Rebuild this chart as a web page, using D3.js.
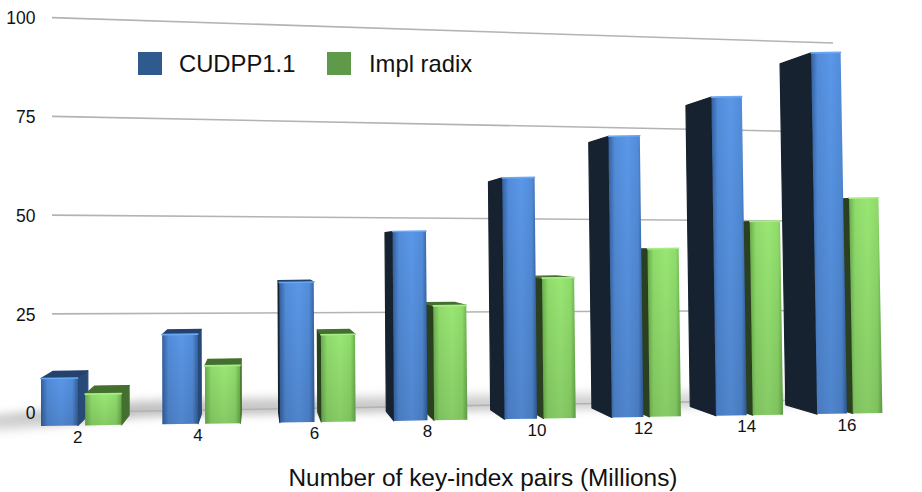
<!DOCTYPE html>
<html>
<head>
<meta charset="utf-8">
<script src="https://cdn.jsdelivr.net/npm/d3@7/dist/d3.min.js"></script>
<style>
  html, body { margin: 0; padding: 0; background: #fff; }
  text { font-family: "Liberation Sans", Arial, sans-serif; fill: #111; }
</style>
</head>
<body>
<div id="chart"></div>
<script>
const categories = [2, 4, 6, 8, 10, 12, 14, 16];
const cudpp = [9, 17.6, 28.5, 40, 53, 64.3, 76, 90];
const implRadix = [6, 11.5, 18, 24.5, 31.3, 39, 46.9, 54.5];
const valueTicks = [0, 25, 50, 75, 100];
const seriesNames = ["CUDPP1.1", "Impl radix"];
const axisTitle = "Number of key-index pairs (Millions)";

const width = 922, height = 492;
const barWidth = 0.3, barGap = 0.06;

const svg = d3.select("#chart").append("svg")
  .attr("width", width)
  .attr("height", height);
const defs = svg.append("defs");

// 畫面是透視的，所以 x / y 都要隨位置 t（類別序號）變化
const xProj = (t) => 41 + (123.3 * t) / (1 + 0.016 * t);
const baseY = d3.scaleLinear().domain([0, 7.5]).range([426, 413.2]);
const pxPerUnit = d3.scaleLinear().domain([0, 7.5]).range([5.3, 3.95]);
const lean = d3.scaleLinear().domain([0, 7]).range([0, 0.0168]);

// 後牆的刻度：左右兩端的 y 比例不同
const wallX = d3.scaleLinear().domain([52, 833]).range([0, 1]);
const wallLeft = d3.scaleLinear().domain([0, 100]).range([412.6, 17.6]);
const wallRight = d3.scaleLinear().domain([0, 100]).range([399.5, 43]);
const wallY = (v, x) => d3.interpolate(wallLeft(v), wallRight(v))(wallX(x));

// 消失點與深度
const vanish = { x: 257, y: 249 }, depth = 0.056;
const toBack = ([x, y]) => [x + (vanish.x - x) * depth, y + (vanish.y - y) * depth];

const line = d3.line();

// 地面陰影：貼著 0 的格線，左邊往下拉一點
const shadowGrad = defs.append("linearGradient").attr("id", "floorShade")
  .attr("x1", 0).attr("x2", 0).attr("y1", 0).attr("y2", 1);
shadowGrad.append("stop").attr("offset", 0).attr("stop-color", "#8a8a8a").attr("stop-opacity", 0.08);
shadowGrad.append("stop").attr("offset", 0.55).attr("stop-color", "#8a8a8a").attr("stop-opacity", 0.6);
shadowGrad.append("stop").attr("offset", 1).attr("stop-color", "#a5a5a5").attr("stop-opacity", 0.25);
defs.append("filter").attr("id", "blur")
  .attr("x", "-5%").attr("y", "-80%").attr("width", "110%").attr("height", "260%")
  .append("feGaussianBlur").attr("stdDeviation", 4);

const leftDrop = d3.scaleLinear().domain([0, 150]).range([14, 0]).clamp(true);
const shadowTs = d3.range(-0.4, 7.81, 0.4);
const shadowPts = shadowTs.map((t) => [xProj(t), wallY(0, xProj(t)) - 12 + leftDrop(xProj(t))])
  .concat(shadowTs.slice().reverse().map((t) => [xProj(t), wallY(0, xProj(t)) + 5 + leftDrop(xProj(t))]));
svg.append("path")
  .attr("d", line(shadowPts) + "Z")
  .attr("fill", "url(#floorShade)")
  .attr("filter", "url(#blur)");

// 格線
svg.append("g").selectAll("line")
  .data(valueTicks)
  .join("line")
  .attr("x1", 52)
  .attr("x2", 833)
  .attr("y1", (d) => wallY(d, 52))
  .attr("y2", (d) => wallY(d, 833))
  .attr("stroke", "#b3b3b3")
  .attr("stroke-width", 1.6);

// y 軸
const yAxis = svg.append("g")
  .attr("transform", "translate(35.5,0)")
  .call(d3.axisLeft(wallLeft).tickValues(valueTicks).tickSize(0).tickPadding(0));
yAxis.select(".domain").remove();
yAxis.selectAll("text").attr("font-size", 17.5).attr("dy", "0.36em")
  .style("font-family", '"Liberation Sans", Arial, sans-serif').style("fill", "#111");

// 柱子
const palette = [
  { edge: "#33609e", mid: "#5a97e8", side: "#284a78", dark: "#16222f", top: "#24426e", glow: "#6ba9f2" },
  { edge: "#69ad4c", mid: "#99e673", side: "#44702f", dark: "#2b4020", top: "#44702f", glow: "#a8ec85" },
];

palette.forEach((p, i) => {
  const g = defs.append("linearGradient").attr("id", `front${i}`);
  g.append("stop").attr("offset", 0).attr("stop-color", p.edge);
  g.append("stop").attr("offset", 0.18).attr("stop-color", d3.interpolate(p.edge, p.mid)(0.8));
  g.append("stop").attr("offset", 0.55).attr("stop-color", p.mid);
  g.append("stop").attr("offset", 0.85).attr("stop-color", d3.interpolate(p.edge, p.mid)(0.8));
  g.append("stop").attr("offset", 1).attr("stop-color", p.edge);
});
const fade = defs.append("linearGradient").attr("id", "fade")
  .attr("x1", 0).attr("x2", 0).attr("y1", 0).attr("y2", 1);
fade.append("stop").attr("offset", 0).attr("stop-color", "#000").attr("stop-opacity", 0);
fade.append("stop").attr("offset", 1).attr("stop-color", "#000").attr("stop-opacity", 0.12);

const bars = categories.flatMap((c, i) => [
  { series: 0, t: i, value: cudpp[i] },
  { series: 1, t: i + barWidth + barGap, value: implRadix[i] },
]);

function corners(d) {
  const t0 = d.t, t1 = d.t + barWidth;
  const h = d.value * pxPerUnit(t0 + barWidth / 2);
  const top = (t) => [xProj(t) - lean(t) * h, baseY(t) - h];
  return {
    bl: [xProj(t0), baseY(t0)],
    br: [xProj(t1), baseY(t1)],
    tl: top(t0),
    tr: top(t1),
  };
}

// 離消失點遠的先畫，近的蓋在上面
bars.sort((a, b) => Math.abs(xProj(b.t) - vanish.x) - Math.abs(xProj(a.t) - vanish.x));

const barG = svg.append("g").selectAll("g").data(bars).join("g");

barG.each(function (d) {
  const sel = d3.select(this);
  const c = corners(d);
  const p = palette[d.series];
  const backLeft = toBack(c.tl)[0] < c.tl[0];

  // 側面
  const sideTop = backLeft ? c.tl : c.tr;
  const sideBot = backLeft ? c.bl : c.br;
  sel.append("path")
    .attr("d", line([sideTop, toBack(sideTop), toBack(sideBot), sideBot]) + "Z")
    .attr("fill", backLeft ? p.dark : p.side)
    .attr("stroke", backLeft ? p.dark : p.side)
    .attr("stroke-width", 1.2)
    .attr("stroke-linejoin", "round");

  // 頂面（只有低於視線才看得到）
  if (toBack(c.tl)[1] < c.tl[1]) {
    sel.append("path")
      .attr("d", line([c.tl, c.tr, toBack(c.tr), toBack(c.tl)]) + "Z")
      .attr("fill", p.top)
      .attr("stroke", p.top)
      .attr("stroke-width", 1.2)
      .attr("stroke-linejoin", "round");
  }

  // 正面
  const front = line([c.tl, c.tr, c.br, c.bl]) + "Z";
  sel.append("path").attr("d", front).attr("fill", `url(#front${d.series})`);
  sel.append("path").attr("d", front).attr("fill", "url(#fade)");
  sel.append("path")
    .attr("d", line([c.tl, c.tr]))
    .attr("stroke", p.glow)
    .attr("stroke-width", 1.6)
    .attr("stroke-linecap", "round")
    .attr("fill", "none");
});

// x 軸標籤
svg.append("g").selectAll("text")
  .data(categories)
  .join("text")
  .attr("x", (d, i) => xProj(i + 0.3))
  .attr("y", (d, i) => baseY(i + 0.3) + 11)
  .attr("dy", "0.36em")
  .attr("text-anchor", "middle")
  .attr("font-size", 17)
  .text((d) => d);

// 圖例
const legend = svg.append("g");
const legendSwatch = [138, 327];
const legendColors = ["#2f5a8e", "#5f9a4b"];
legend.selectAll("rect")
  .data(seriesNames)
  .join("rect")
  .attr("x", (d, i) => legendSwatch[i])
  .attr("y", 52)
  .attr("width", 24)
  .attr("height", 23)
  .attr("fill", (d, i) => legendColors[i]);
legend.selectAll("text")
  .data(seriesNames)
  .join("text")
  .attr("x", (d, i) => legendSwatch[i] + (i ? 42 : 41))
  .attr("y", 63)
  .attr("dy", "0.36em")
  .attr("font-size", 23.8)
  .text((d) => d);

// x 軸標題
svg.append("text")
  .attr("x", 483)
  .attr("y", 486)
  .attr("text-anchor", "middle")
  .attr("font-size", 24.4)
  .text(axisTitle);
</script>
</body>
</html>
